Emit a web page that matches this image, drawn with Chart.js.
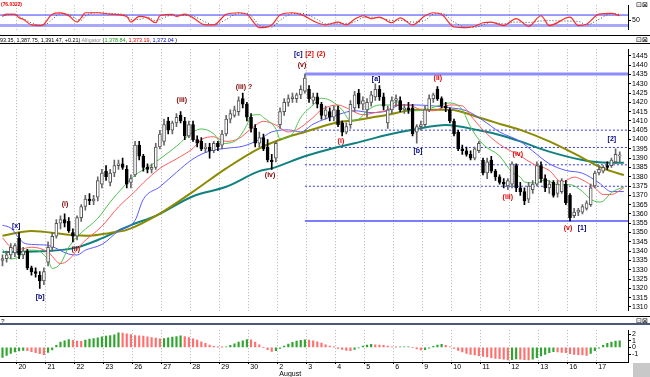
<!DOCTYPE html>
<html><head><meta charset="utf-8">
<script src="https://cdn.jsdelivr.net/npm/chart.js@4.4.1/dist/chart.umd.min.js"></script>
<style>
html,body{margin:0;padding:0;background:#fff;}
body{width:650px;height:377px;position:relative;overflow:hidden;font-family:"Liberation Sans",Arial,sans-serif;}
canvas{position:absolute;left:0;}
.t{position:absolute;white-space:nowrap;transform-origin:0 0;line-height:1;}
.ln{position:absolute;left:0;width:650px;}
</style></head><body>
<canvas id="cTop" width="650" height="35" style="top:0px"></canvas>
<canvas id="cMain" width="650" height="272" style="top:44px"></canvas>
<canvas id="cBot" width="650" height="52" style="top:325px"></canvas>
<div class="ln" style="top:35px;height:1px;background:#000"></div>
<div class="ln" style="top:43px;height:1px;background:#000"></div>
<div class="ln" style="top:316px;height:1px;background:#000"></div>
<div class="ln" style="top:323px;height:2px;background:#4b587c"></div>
<div class="t" id="oscTitle" style="left:1px;top:1px;font-size:6px;color:#e00000;font-weight:bold">(76.0322)</div>
<div class="t" id="hdr" style="left:0;top:37px;font-size:6px;color:#000">93.35, 1,387.75, 1,391.47, +0.21) <span style="color:#8a8a8a">Alligator</span> (<span style="color:#1a9a1a">1,378.84</span>, <span style="color:#e00000">1,373.19</span>, <span style="color:#0000d0">1,372.04</span> )</div>
<div class="t" style="left:1px;top:318px;font-size:6px">?</div>
<div class="t" style="left:636px;top:1px;font-size:7px">⊡⊠</div>
<div class="t" style="left:636px;top:36px;font-size:7px">⊡⊠</div>
<div class="t" style="left:636px;top:317px;font-size:7px">⊡⊠</div>
<div style="position:absolute;left:633px;top:363px;width:17px;height:14px;background:#c8c8c8"></div>
<script>
// ---------- DATA ----------
const dayLabels = ['20','21','22','23','26','27','28','29','30',['2','August'],'3','4','5','6','9','10','11','12','13','16','17'];
const barsPerDay = 7;
const firstDayStart = 3.5;

const opens = [1335,1336,1338,1339,1347,1338,1340,1331,1329,1327,
1324,1334,1342,1348,1355,1357,1356,1350,1348,1358,
1364,1368,1367,1369,1376,1383,1377,1382,1386,1387,
1384,1377,1381,1397,1391,1385,1384,1385,1396,1399,
1410,1405,1409,1413,1410,1402,1408,1400,1399,1395,
1396,1394,1398,1397,1403,1411,1413,1415,1422,1419,
1412,1406,1398,1401,1396,1389,1390,1408,1415,1420,
1422,1422,1424,1426,1427,1421,1423,1419,1413,1415,
1412,1416,1409,1404,1408,1417,1425,1419,1416,1420,
1423,1427,1423,1409,1416,1421,1421,1416,1417,1417,
1404,1407,1408,1416,1422,1427,1422,1418,1416,1410,
1404,1395,1394,1392,1390,1394,1389,1382,1389,1383,
1380,1377,1375,1376,1386,1374,1372,1368,1373,1376,
1386,1379,1374,1377,1371,1372,1376,1370,1359,1361,
1361,1363,1365,1375,1382,1383,1386,1386,1388,1391.26];
const highs = [1338,1340,1344,1344,1350,1342,1341,1332,1331,1329,
1331,1345,1350,1357,1359,1360,1358,1352,1359,1365,
1370,1371,1370,1380,1384,1386,1384,1389,1389,1390,
1386,1381,1399,1399,1392,1387,1387,1398,1405,1411,
1412,1410,1414,1415,1412,1410,1410,1402,1401,1398,
1398,1399,1399,1405,1413,1416,1418,1423,1425,1420,
1414,1408,1404,1403,1400,1392,1399,1417,1422,1424,
1425,1425,1429,1435.25,1429,1425,1425,1420,1418,1417,
1418,1418,1410,1409,1421,1426,1427,1423,1422,1426,
1430,1429,1425,1418,1423,1424,1423,1419,1420,1419,
1408,1410,1418,1424,1425,1428.5,1423,1420,1417,1411,
1405,1397,1396,1394,1396,1399,1390,1390,1391,1384,
1381,1379,1379,1388,1387,1377,1374,1377,1378,1388,
1388,1381,1378,1378,1378,1379,1378,1371,1363,1363,
1365,1367,1376,1383,1386,1386,1388,1390,1395,1393.35];
const lows = [1332,1334,1336,1337,1336,1336,1330,1327,1326,1320,
1322,1332,1340,1347,1352,1353,1350,1345,1346,1356,
1362,1365,1365,1367,1374,1378,1375,1380,1384,1384,
1374,1374,1380,1389,1383,1382,1382,1384,1395,1397,
1403,1403,1407,1409,1400,1401,1399,1396,1394,1393,
1390,1393,1394,1395,1402,1409,1412,1413,1417,1410,
1404,1396,1396,1394,1388,1384,1388,1406,1413,1418,
1420,1420,1422,1425,1420,1419,1417,1411,1411,1410,
1410,1407,1402,1403,1406,1415,1417,1416,1412,1418,
1421,1421,1416,1406,1414,1418,1415,1414,1414,1402,
1398,1405,1407,1415,1420,1421,1417,1415,1409,1402,
1394,1392,1391,1389,1389,1393,1381,1379,1382,1378,
1376,1374,1373,1374,1372,1370,1365,1366,1371,1375,
1377,1372,1371,1369,1369,1371,1365,1356.25,1358,1359,
1360,1362,1364,1374,1381,1382,1384,1385,1387,1387.75];
const closes = [1336,1338,1342,1343,1338,1340,1331,1329,1328,1324,
1329,1342,1348,1355,1357,1355,1351,1348,1358,1364,
1368,1367,1368,1378,1382,1380,1382,1386,1387,1385,
1376,1379,1397,1391,1385,1384,1385,1396,1403,1408,
1405,1409,1412,1410,1402,1408,1400,1398,1395,1396,
1394,1398,1396,1403,1411,1414,1416,1421,1419,1412,
1406,1398,1401,1395,1389,1388,1398,1415,1420,1422,
1423,1424,1427,1433,1422,1423,1419,1413,1416,1412,
1416,1408,1404,1407,1419,1424,1419,1421,1420,1424,
1427,1423,1418,1416,1421,1422,1416,1417,1416,1403,
1407,1408,1416,1422,1424,1422,1418,1417,1410,1403,
1395,1394,1392,1390,1395,1398,1382,1388,1383,1380,
1377,1376,1378,1387,1374,1372,1367,1375,1376,1386,
1379,1374,1376,1370,1376,1378,1366,1358,1361,1362,
1364,1366,1374,1382,1384,1385,1385,1389,1392,1391.47];

// Moving averages: [bar, price]
const greenLine = [[0,1341],[2,1335.8],[4,1336.9],[6,1340.5],[8,1340.5],[11,1335.3],[12,1330.7],[14,1333.3],[16,1342.1],[19,1349.8],[23,1357.6],[26,1366.4],[29,1374.1],[32,1380.9],[35,1385],[38,1389.6],[42,1396.4],[46,1404.1],[48,1405.7],[51,1403.1],[53,1397.9],[56,1399],[59,1407.8],[60,1412.9],[62,1413.4],[63,1411.9],[66,1405.7],[67,1400.5],[70,1403.1],[72,1411.9],[75,1418.6],[77,1422.2],[79,1421.2],[82,1416],[84,1410.3],[86,1410.9],[88,1415.5],[91,1418.6],[94,1418.6],[95,1420.7],[97,1416],[100,1415.5],[102,1416],[105,1418.1],[108,1419.7],[111,1416],[113,1406.7],[116,1397.4],[120,1391.2],[123,1382.4],[125,1379.8],[126,1377.2],[129,1376.7],[131,1378.3],[134,1375.7],[137,1375.7],[140,1372.1],[142,1367.9],[144,1366.4],[145,1366.9],[147,1371.5],[150,1374.6]];
const redLine = [[0,1347.2],[2,1342.1],[4,1341],[7,1342.1],[11,1339.5],[14,1333.3],[16,1335.3],[19,1343.6],[24,1353.4],[28,1363.8],[32,1372.1],[34,1376.7],[38,1384.5],[42,1389.6],[46,1395.3],[48,1400],[51,1401.5],[54,1399],[57,1400.5],[60,1405.7],[63,1409.8],[66,1407.8],[69,1404.1],[71,1405.2],[75,1411.9],[77,1416],[81,1418.6],[83,1417.1],[87,1413.4],[90,1414.5],[93,1416],[95,1418.6],[98,1418.6],[101,1416],[104,1415.5],[108,1418.6],[111,1418.1],[113,1412.9],[116,1405.2],[120,1397.4],[125,1391.2],[128,1387],[132,1383.4],[135,1377.2],[138,1379.8],[140,1378.3],[143,1374.1],[145,1370.5],[147,1370.5],[150,1374.1]];
const blueLine = [[0,1353.9],[2,1352.4],[5,1344.6],[7,1343.6],[11,1343.1],[16,1338.4],[18,1337.9],[20,1340.5],[24,1343.6],[28,1350.8],[32,1356.5],[34,1367.9],[38,1374.6],[42,1382.4],[46,1389.6],[50,1393.8],[54,1395.3],[58,1396.4],[62,1400],[65,1404.1],[69,1405.2],[72,1404.1],[75,1408.3],[81,1413.4],[85,1415.5],[89,1414.5],[93,1415.5],[96,1418.6],[100,1418.6],[104,1418.1],[108,1417.1],[112,1415.5],[116,1410.3],[120,1404.1],[125,1399],[128,1393.8],[132,1387],[136,1383.4],[140,1381.9],[144,1376.7],[147,1372],[150,1372.04]];
const oliveLine = [[0,1348.3],[7,1350.8],[16,1348.8],[21,1348.3],[26,1349.8],[30,1351.4],[38,1360.2],[46,1372],[54,1384.5],[62,1395.3],[69,1401.5],[73,1404.1],[81,1409.3],[85,1410.3],[93,1413.4],[100,1416],[108,1416],[115,1411.9],[121,1407.8],[125,1405.2],[132,1399],[140,1390.2],[145,1384.5],[150,1380.9]];
const tealLine = [[0,1339.5],[11,1340],[18,1342],[23,1346],[28,1351],[31,1354],[37,1359],[46,1369.5],[54,1374.6],[62,1383],[65,1384.5],[73,1391],[81,1396],[85,1398],[93,1402.6],[100,1405.7],[107,1407.8],[115,1405],[120,1402.5],[125,1399],[132,1393.5],[140,1389],[144,1387.8],[150,1387.5]];

// Fibonacci retracement from the top bar to the right edge
const fibStartBar = 73;
const fibTop = 1435.25;
const fibBottom = 1356.25;
const fibLevels = [1405.07, 1395.75, 1386.43, 1374.89];

const priceTicks = [1310,1315,1320,1325,1330,1335,1340,1345,1350,1355,1360,1365,1370,1375,1380,1385,1390,1395,1400,1405,1410,1415,1420,1425,1430,1435,1440,1445];

// Elliott wave labels: [bar, price, text, degree]
const waveLabels = [
 [3.3,1353.4,'[x]','primary'],
 [9.1,1315.2,'[b]','primary'],
 [15.1,1365.3,'(i)','intermediate'],
 [17.7,1341,'(ii)','intermediate'],
 [43.3,1421.2,'(iii)','intermediate'],
 [58.3,1428.4,'(iii) ?','intermediate'],
 [64.6,1380.9,'(iv)','intermediate'],
 [72.3,1440.3,'(v)','intermediate'],
 [71.4,1446.2,'[c]','primary'],
 [74.1,1446.2,'[2]','alt'],
 [76.9,1446.2,'(2)','alt'],
 [81.7,1399,'(i)','minor'],
 [90.2,1432.6,'[a]','primary'],
 [100.3,1393.8,'[b]','primary'],
 [105.1,1433.1,'(ii)','minor'],
 [122,1369,'(iii)','minor'],
 [124.4,1392.2,'(iv)','minor'],
 [136.5,1352.4,'(v)','minor'],
 [139.9,1352.4,'[1]','primary'],
 [147.1,1400.5,'[2]','primary']
];

// Oscillator (top panel)
const oscBars = [0,1,3,4,5,7,9,10,12,14,16,18,19,20,23,26,30,31,33,35,37,38,41,42,44,46,49,51,54,57,59,61,62,65,67,70,72,76,78,81,83,85,87,89,91,94,96,99,102,104,106,109,112,114,116,118,121,124,127,130,132,137,139,141,144,147,149];
const oscMain = [76,85,84,64,56,24,20,28,84,92,76,40,64,93,93,85,72,40,72,64,36,76,84,72,85,64,24,24,84,93,84,28,8,24,80,93,84,36,24,40,24,56,76,60,68,36,64,24,76,93,84,12,8,16,36,40,20,60,16,76,20,68,20,28,85,89,76];
const oscSignal = [72,80,85,72,60,35,22,22,55,88,84,55,50,75,93,89,78,55,55,68,48,55,80,78,78,74,40,24,55,90,90,50,20,12,50,88,90,55,30,30,32,40,65,68,64,50,50,40,50,85,90,40,10,10,25,38,30,40,38,46,48,45,44,24,56,88,84];
const oscUpper = 80, oscLower = 20;

// Histogram (bottom panel)
const hist = [-1.5,-1.2,-0.9,-0.7,-0.55,-0.45,-0.5,-0.65,-0.8,-0.95,
-1.1,-0.75,-0.4,0.3,0.8,1.0,1.2,1.05,0.95,0.9,
1.1,1.25,1.35,1.45,1.6,1.7,1.8,1.9,2.2,2.15,
2.05,1.95,1.8,1.75,1.7,1.6,1.5,1.4,1.3,1.35,
1.45,1.55,1.65,1.75,1.65,1.5,1.3,1.1,0.85,0.6,
0.35,0.15,0.05,0.02,0.1,0.3,0.55,0.8,1.0,1.2,
1.15,0.8,0.4,0.0,-0.35,-0.6,-0.5,-0.15,0.2,0.5,
0.75,0.95,1.05,1.15,1.1,1.0,0.85,0.65,0.4,0.2,
0.05,-0.15,-0.3,-0.45,-0.5,-0.3,-0.05,0.2,0.35,0.45,
0.4,0.35,0.3,0.2,0.1,0.05,0.07,0.08,0.1,0.0,
-0.25,-0.4,-0.35,-0.1,0.15,0.35,0.45,0.3,0.1,-0.15,
-0.45,-0.7,-0.9,-1.05,-1.15,-1.25,-1.35,-1.45,-1.55,-1.65,
-1.7,-1.8,-1.9,-1.85,-1.75,-1.8,-1.85,-1.9,-1.8,-1.55,
-1.3,-1.05,-0.8,-0.65,-0.7,-0.75,-0.8,-0.95,-1.05,-1.1,
-1.15,-1.2,-0.9,-0.5,-0.1,0.3,0.6,0.8,0.95,1.0];
const histTicks = [2,1,0,-1];

// ---------- RENDER ----------
const FONT = '"Liberation Sans", Arial, Helvetica, sans-serif';
const X_MIN = -0.6, X_MAX = 151;
const dayTicks = dayLabels.map((_, k) => firstDayStart + barsPerDay * k);
const degreeColor = {primary:'#000080', intermediate:'#800000', minor:'#e00000', alt:'#e00000'};

function xAxis(showLabels){
  return {
    type:'linear', min:X_MIN, max:X_MAX, offset:false,
    afterBuildTicks: s => { s.ticks = dayTicks.map(v => ({value:v})); },
    ticks: showLabels ? {
      display:true, autoSkip:false, maxRotation:0, minRotation:0, align:'start', padding:0,
      color:'#000', font:{size:7, family:FONT, lineHeight:0.95},
      callback:(v, i) => { const l = dayLabels[i]; return Array.isArray(l) ? l.map(s => '\u2009' + s) : '\u2009' + l; }
    } : {display:false},
    grid: {color:'#b4b4b4', offset:false, drawTicks:showLabels, tickLength:2, tickColor:'#000', lineWidth:1},
    border: {display:showLabels, color:'#000', dash:[1,2]},
    afterFit: s => { s.height = showLabels ? 15 : 0; }
  };
}
function yAxis(min, max, tickList){
  return {
    position:'right', min, max,
    afterBuildTicks: s => { s.ticks = tickList.map(v => ({value:v})); },
    afterFit: s => { s.width = 22; },
    ticks:{color:'#000', font:{size:7, family:FONT}, padding:1, autoSkip:false, callback: v => String(v)},
    grid:{drawOnChartArea:false, drawTicks:true, tickLength:3, color:'#000'},
    border:{display:true, color:'#000'}
  };
}
const baseOpts = {
  responsive:false, animation:false, devicePixelRatio:1, events:[],
  layout:{padding:0},
  plugins:{legend:{display:false}, tooltip:{enabled:false}}
};
const pts = arr => arr.map(([x, y]) => ({x, y}));
const bars = opens.map((_, i) => i);

// Main chart
const waveLabelPlugin = {
  id:'waveLabels',
  afterDatasetsDraw(chart){
    const {ctx, scales:{x, y}} = chart;
    ctx.save();
    ctx.font = 'bold 7px ' + FONT;
    ctx.textAlign = 'center'; ctx.textBaseline = 'middle';
    waveLabels.forEach(([b, p, t, d]) => {
      ctx.fillStyle = degreeColor[d];
      ctx.fillText(t, x.getPixelForValue(b), y.getPixelForValue(p));
    });
    ctx.restore();
  }
};
function maSet(data, color, width, order){
  return {type:'line', data:pts(data), borderColor:color, borderWidth:width, pointRadius:0,
          cubicInterpolationMode:'monotone', order};
}
function hLine(level, color, width, dash, order){
  return {type:'line', data:[{x:fibStartBar, y:level}, {x:X_MAX, y:level}], borderColor:color,
          borderWidth:width, borderDash:dash, pointRadius:0, order};
}
const up = bars.map(i => closes[i] >= opens[i]);
new Chart(document.getElementById('cMain'), {
  type:'bar',
  data:{datasets:[
    {label:'body', data:bars.map(i => ({x:i, y:[opens[i], closes[i]]})),
     backgroundColor:up.map(u => u ? '#ffffff' : '#000000'),
     borderColor:up.map(u => u ? '#555555' : '#000000'),
     borderWidth:1, borderSkipped:false, barThickness:3, minBarLength:1, grouped:false, order:0},
    {label:'wick', data:bars.map(i => ({x:i, y:[lows[i], highs[i]]})),
     backgroundColor:up.map(u => u ? '#666666' : '#000000'),
     borderWidth:0, barThickness:1, grouped:false, order:1},
    maSet(greenLine, '#4cc24c', 1, 2),
    maSet(redLine, '#ff5a5a', 1, 3),
    maSet(blueLine, '#5a5aff', 1, 4),
    maSet(oliveLine, '#8c8a00', 2, 5),
    maSet(tealLine, '#118080', 2, 6),
    hLine(fibTop, '#8c8cff', 3, [], 7),
    hLine(fibBottom, '#5050ff', 1.5, [], 7),
    ...fibLevels.map(l => hLine(l, '#3535e0', 1, [2,2], 8))
  ]},
  options:{...baseOpts, scales:{x:xAxis(false), y:yAxis(1307.9, 1448.6, priceTicks)}},
  plugins:[waveLabelPlugin]
});

// Top oscillator
new Chart(document.getElementById('cTop'), {
  type:'line',
  data:{datasets:[
    {data:oscBars.map((b, k) => ({x:b, y:oscMain[k]})), borderColor:'#ff2a2a', borderWidth:1.2, pointRadius:0, cubicInterpolationMode:'monotone', order:0},
    {data:oscBars.map((b, k) => ({x:b, y:oscSignal[k]})), borderColor:'#4a4a4a', borderWidth:1, borderDash:[1,2], pointRadius:0, cubicInterpolationMode:'monotone', order:1},
    {data:[{x:X_MIN, y:oscUpper}, {x:X_MAX, y:oscUpper}], borderColor:'#3a3aff', borderWidth:1, pointRadius:0, order:2},
    {data:[{x:X_MIN, y:oscLower}, {x:X_MAX, y:oscLower}], borderColor:'#a8a8ff', borderWidth:3, pointRadius:0, order:3}
  ]},
  options:{...baseOpts, scales:{x:xAxis(false), y:yAxis(-4, 136, [50])}}
});

// Bottom histogram
new Chart(document.getElementById('cBot'), {
  type:'bar',
  data:{datasets:[
    {data:hist.map((v, i) => ({x:i, y:v})),
     backgroundColor:hist.map((v, i) => (i === 0 || v >= hist[i-1]) ? '#2fa52f' : '#ff6f6f'),
     borderWidth:0, barThickness:1.5, grouped:false}
  ]},
  options:{...baseOpts, scales:{x:xAxis(true), y:yAxis(-2.21, 2.6, histTicks)}}
});

// fit small UI text widths
function fit(id, w){ const el = document.getElementById(id); const r = el.getBoundingClientRect().width; if (r > 0) el.style.transform = 'scaleX(' + (w / r) + ')'; }
fit('hdr', 177); fit('oscTitle', 21);
</script>
</body></html>
